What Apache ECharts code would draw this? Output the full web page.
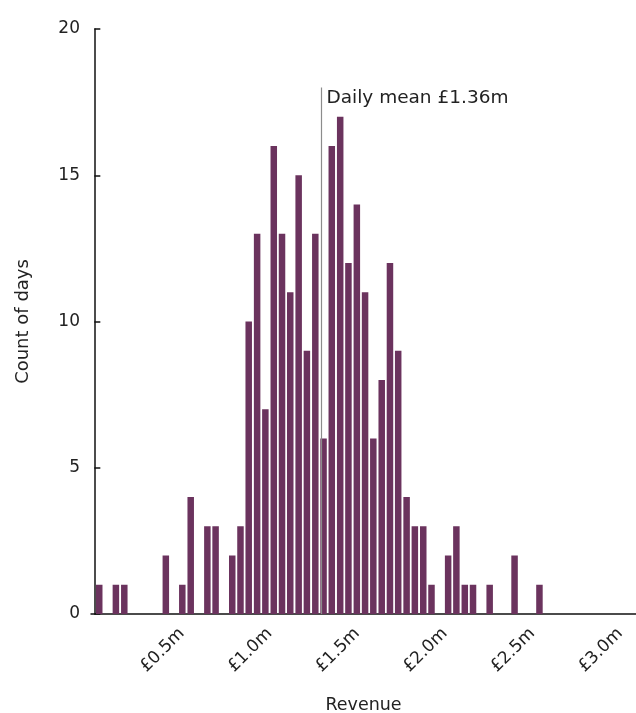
<!DOCTYPE html>
<html>
<head>
<meta charset="utf-8">
<script src="https://cdn.jsdelivr.net/npm/echarts@6/dist/echarts.min.js"></script>
<style>
html,body{margin:0;padding:0;background:#fff;}
#chart{width:636px;height:713px;}
</style>
</head>
<body>
<div id="chart"></div>
<script>
// Histogram bin centres (£m) for non-empty bins
var binCentres = [0.028, 0.123, 0.171, 0.408, 0.502, 0.550, 0.645, 0.692, 0.787, 0.834,
  0.881, 0.929, 0.976, 1.024, 1.071, 1.118, 1.166, 1.213, 1.261, 1.308,
  1.355, 1.403, 1.450, 1.498, 1.545, 1.592, 1.640, 1.687, 1.734, 1.782,
  1.829, 1.877, 1.924, 2.019, 2.066, 2.114, 2.161, 2.256, 2.398, 2.540];
var dayCounts = [1, 1, 1, 2, 1, 4, 3, 3, 2, 3,
  10, 13, 7, 16, 13, 11, 15, 9, 13, 6,
  16, 17, 12, 14, 11, 6, 8, 12, 9, 4,
  3, 3, 1, 2, 3, 1, 1, 1, 2, 1];
var xTickValues = [0.5, 1.0, 1.5, 2.0, 2.5, 3.0];
var meanPosition = 1.296;   // where the mean line is drawn
var meanLineTop = 18;
var meanLabel = 'Daily mean £1.36m';
var yTicks = [0, 5, 10, 15, 20];

var barData = binCentres.map(function (x, i) { return [x, dayCounts[i]]; });

var font = '"DejaVu Sans", "Noto Sans", sans-serif';
var chart = echarts.init(document.getElementById('chart'));
chart.setOption({
  animation: false,
  grid: { left: 91, right: 0, top: 29, bottom: 99, outerBoundsMode: 'none', containLabel: false },
  xAxis: {
    type: 'value',
    min: -0.019,
    max: 3.091,
    name: 'Revenue',
    nameLocation: 'middle',
    nameGap: 82,
    nameTextStyle: { color: '#222', fontSize: 17.5, fontFamily: font },
    axisLine: { show: true, lineStyle: { color: '#111', width: 1.5 } },
    axisTick: { show: false },
    splitLine: { show: false },
    axisLabel: {
      customValues: xTickValues,
      rotate: 45,
      margin: 17,
      color: '#222',
      fontSize: 17,
      fontFamily: font,
      formatter: function (v) { return '£' + v.toFixed(1) + 'm'; }
    }
  },
  yAxis: {
    type: 'value',
    min: yTicks[0],
    max: yTicks[yTicks.length - 1],
    interval: 5,
    name: 'Count of days',
    nameLocation: 'middle',
    nameGap: 59,
    nameTextStyle: { color: '#222', fontSize: 18, fontFamily: font },
    axisLine: { show: true, lineStyle: { color: '#111', width: 1.5 } },
    axisTick: { show: true, inside: true, length: 6, lineStyle: { color: '#111', width: 1.5 } },
    splitLine: { show: false },
    axisLabel: { margin: 11, color: '#222', fontSize: 17, fontFamily: font }
  },
  series: [
    {
      type: 'bar',
      data: barData,
      barWidth: 6.5,
      itemStyle: { color: '#6b335e' },
      markLine: {
        silent: true,
        symbol: ['none', 'none'],
        lineStyle: { color: '#8c8c8c', width: 1.2, type: 'solid' },
        label: { show: false },
        data: [[{ coord: [meanPosition, 0] }, { coord: [meanPosition, meanLineTop] }]]
      }
    },
    {
      type: 'scatter',
      data: [[meanPosition, meanLineTop]],
      symbolSize: 0,
      silent: true,
      itemStyle: { opacity: 1, color: '#222' },
      label: {
        show: true,
        position: [5, 1],
        align: 'left',
        verticalAlign: 'top',
        formatter: meanLabel,
        color: '#222',
        opacity: 1,
        fontSize: 18.5,
        fontFamily: font
      }
    }
  ]
});
</script>
</body>
</html>
